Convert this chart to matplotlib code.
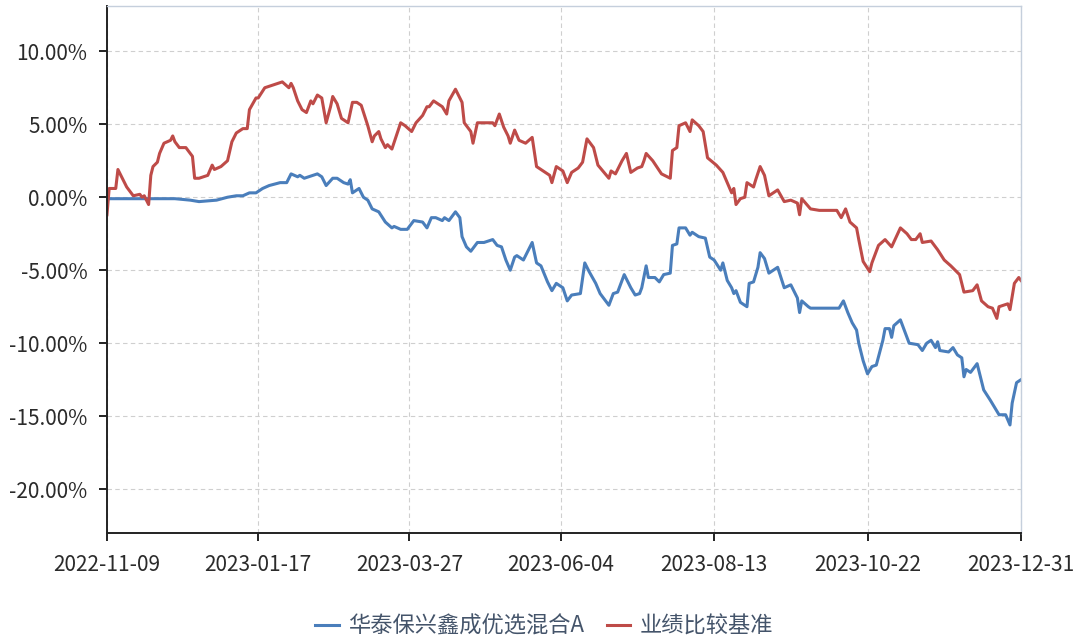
import pandas as pd
import matplotlib.pyplot as plt
import matplotlib.dates as mdates
from matplotlib.ticker import FuncFormatter

plt.rcParams['font.family'] = ['Noto Sans CJK SC', 'DejaVu Sans']

# ---------------- data (cumulative return, %) ----------------
fund_name = '华泰保兴鑫成优选混合A'
bench_name = '业绩比较基准'

bench_dates = [
    '2022-11-09', '2022-11-10', '2022-11-13', '2022-11-14', '2022-11-16', '2022-11-18', '2022-11-21',
    '2022-11-24', '2022-11-25', '2022-11-26', '2022-11-28', '2022-11-29', '2022-11-30', '2022-12-02',
    '2022-12-03', '2022-12-05', '2022-12-08', '2022-12-09', '2022-12-10', '2022-12-12', '2022-12-15',
    '2022-12-18', '2022-12-19', '2022-12-21', '2022-12-25', '2022-12-27', '2022-12-28', '2022-12-31',
    '2023-01-03', '2023-01-05', '2023-01-07', '2023-01-10', '2023-01-12', '2023-01-13', '2023-01-16',
    '2023-01-17', '2023-01-20', '2023-01-24', '2023-01-28', '2023-01-31', '2023-02-01', '2023-02-02',
    '2023-02-04', '2023-02-06', '2023-02-08', '2023-02-10', '2023-02-11', '2023-02-13', '2023-02-15',
    '2023-02-17', '2023-02-19', '2023-02-20', '2023-02-22', '2023-02-24', '2023-02-27', '2023-03-01',
    '2023-03-03', '2023-03-05', '2023-03-08', '2023-03-10', '2023-03-11', '2023-03-13', '2023-03-14',
    '2023-03-16', '2023-03-17', '2023-03-19', '2023-03-23', '2023-03-25', '2023-03-28', '2023-03-30',
    '2023-04-02', '2023-04-04', '2023-04-05', '2023-04-07', '2023-04-09', '2023-04-11', '2023-04-13',
    '2023-04-14', '2023-04-17', '2023-04-20', '2023-04-21', '2023-04-24', '2023-04-25', '2023-04-27',
    '2023-04-30', '2023-05-04', '2023-05-05', '2023-05-07', '2023-05-09', '2023-05-11', '2023-05-12',
    '2023-05-14', '2023-05-16', '2023-05-19', '2023-05-22', '2023-05-24', '2023-05-28', '2023-05-30',
    '2023-05-31', '2023-06-02', '2023-06-05', '2023-06-07', '2023-06-09', '2023-06-12', '2023-06-14',
    '2023-06-16', '2023-06-19', '2023-06-21', '2023-06-26', '2023-06-27', '2023-06-29', '2023-07-02',
    '2023-07-04', '2023-07-06', '2023-07-09', '2023-07-11', '2023-07-12', '2023-07-13', '2023-07-16',
    '2023-07-20', '2023-07-24', '2023-07-25', '2023-07-27', '2023-07-28', '2023-07-31', '2023-08-02',
    '2023-08-03', '2023-08-06', '2023-08-08', '2023-08-10', '2023-08-14', '2023-08-17', '2023-08-19',
    '2023-08-21', '2023-08-22', '2023-08-23', '2023-08-25', '2023-08-27', '2023-08-28', '2023-08-31',
    '2023-09-01', '2023-09-03', '2023-09-05', '2023-09-07', '2023-09-11', '2023-09-14', '2023-09-17',
    '2023-09-20', '2023-09-21', '2023-09-22', '2023-09-26', '2023-09-30', '2023-10-08', '2023-10-10',
    '2023-10-12', '2023-10-14', '2023-10-17', '2023-10-18', '2023-10-20', '2023-10-23', '2023-10-24',
    '2023-10-27', '2023-10-30', '2023-11-02', '2023-11-06', '2023-11-09', '2023-11-11', '2023-11-13',
    '2023-11-15', '2023-11-16', '2023-11-20', '2023-11-23', '2023-11-26', '2023-11-29', '2023-12-03',
    '2023-12-05', '2023-12-09', '2023-12-11', '2023-12-13', '2023-12-16', '2023-12-18', '2023-12-20',
    '2023-12-21', '2023-12-25', '2023-12-26', '2023-12-28', '2023-12-30', '2023-12-31',
]
bench_values = [
    -1.2, 0.6, 0.6, 1.9, 1.3, 0.7, 0.1,
    0.2, 0.0, 0.1, -0.5, 1.5, 2.1, 2.4,
    3.0, 3.7, 3.9, 4.2, 3.8, 3.4, 3.4,
    2.8, 1.3, 1.3, 1.5, 2.2, 1.9, 2.1,
    2.5, 3.8, 4.4, 4.7, 4.7, 6.0, 6.8,
    6.8, 7.5, 7.7, 7.9, 7.5, 7.8, 7.5,
    6.6, 6.0, 5.8, 6.6, 6.4, 7.0, 6.8,
    5.1, 6.2, 6.9, 6.4, 5.4, 5.1, 6.5,
    6.5, 6.3, 4.9, 3.8, 4.2, 4.5, 4.0,
    3.4, 3.6, 3.3, 5.1, 4.9, 4.5, 5.1,
    5.6, 6.2, 6.2, 6.6, 6.4, 6.2, 5.7,
    6.6, 7.4, 6.5, 5.1, 4.5, 3.7, 5.1,
    5.1, 5.1, 4.9, 5.7, 4.8, 4.2, 3.7,
    4.6, 3.9, 3.7, 4.1, 2.1, 1.7, 1.5,
    1.0, 2.1, 1.8, 1.0, 1.7, 2.0, 2.4,
    4.0, 3.4, 2.2, 1.3, 1.8, 1.6, 2.5,
    3.0, 1.7, 2.0, 2.1, 2.5, 3.0, 2.5,
    1.6, 1.3, 3.2, 3.4, 4.9, 5.1, 4.5,
    5.3, 4.9, 4.5, 2.7, 2.2, 1.7, 1.0,
    0.3, 0.6, -0.5, -0.1, 0.0, 1.0, 0.7,
    1.2, 2.1, 1.5, 0.1, 0.5, -0.3, -0.2,
    -0.4, -1.2, -0.1, -0.8, -0.9, -0.9, -1.4,
    -0.8, -1.7, -2.1, -2.9, -4.4, -5.1, -4.5,
    -3.3, -2.9, -3.4, -2.1, -2.5, -2.9, -2.9,
    -2.5, -3.1, -3.0, -3.6, -4.3, -4.7, -5.3,
    -6.5, -6.4, -6.0, -7.1, -7.5, -7.6, -8.3,
    -7.5, -7.3, -7.7, -5.9, -5.5, -5.7,
]

fund_dates = [
    '2022-11-09', '2022-11-29', '2022-12-10', '2022-12-17', '2022-12-21', '2022-12-29', '2023-01-03',
    '2023-01-07', '2023-01-10', '2023-01-13', '2023-01-16', '2023-01-19', '2023-01-22', '2023-01-27',
    '2023-01-30', '2023-02-01', '2023-02-04', '2023-02-05', '2023-02-07', '2023-02-13', '2023-02-15',
    '2023-02-17', '2023-02-20', '2023-02-22', '2023-02-25', '2023-02-27', '2023-02-28', '2023-03-01',
    '2023-03-03', '2023-03-04', '2023-03-06', '2023-03-08', '2023-03-10', '2023-03-13', '2023-03-16',
    '2023-03-19', '2023-03-20', '2023-03-23', '2023-03-26', '2023-03-29', '2023-04-02', '2023-04-04',
    '2023-04-06', '2023-04-08', '2023-04-11', '2023-04-12', '2023-04-14', '2023-04-17', '2023-04-19',
    '2023-04-20', '2023-04-22', '2023-04-24', '2023-04-27', '2023-04-30', '2023-05-04', '2023-05-06',
    '2023-05-08', '2023-05-10', '2023-05-12', '2023-05-14', '2023-05-15', '2023-05-18', '2023-05-22',
    '2023-05-24', '2023-05-26', '2023-05-29', '2023-05-31', '2023-06-02', '2023-06-05', '2023-06-07',
    '2023-06-09', '2023-06-13', '2023-06-15', '2023-06-17', '2023-06-20', '2023-06-22', '2023-06-26',
    '2023-06-28', '2023-06-30', '2023-07-03', '2023-07-06', '2023-07-08', '2023-07-10', '2023-07-11',
    '2023-07-13', '2023-07-14', '2023-07-17', '2023-07-19', '2023-07-21', '2023-07-24', '2023-07-25',
    '2023-07-27', '2023-07-28', '2023-07-31', '2023-08-02', '2023-08-03', '2023-08-06', '2023-08-09',
    '2023-08-11', '2023-08-13', '2023-08-16', '2023-08-17', '2023-08-19', '2023-08-21', '2023-08-22',
    '2023-08-23', '2023-08-25', '2023-08-28', '2023-08-29', '2023-08-31', '2023-09-02', '2023-09-03',
    '2023-09-05', '2023-09-07', '2023-09-11', '2023-09-14', '2023-09-17', '2023-09-20', '2023-09-21',
    '2023-09-22', '2023-09-25', '2023-09-26', '2023-10-09', '2023-10-11', '2023-10-13', '2023-10-15',
    '2023-10-17', '2023-10-18', '2023-10-20', '2023-10-22', '2023-10-24', '2023-10-26', '2023-10-29',
    '2023-10-30', '2023-11-01', '2023-11-02', '2023-11-03', '2023-11-06', '2023-11-08', '2023-11-10',
    '2023-11-14', '2023-11-16', '2023-11-18', '2023-11-20', '2023-11-22', '2023-11-23', '2023-11-24',
    '2023-11-28', '2023-11-30', '2023-12-02', '2023-12-04', '2023-12-05', '2023-12-06', '2023-12-08',
    '2023-12-10', '2023-12-11', '2023-12-14', '2023-12-17', '2023-12-19', '2023-12-21', '2023-12-24',
    '2023-12-26', '2023-12-27', '2023-12-29', '2023-12-31',
]
fund_values = [
    -0.1, -0.1, -0.1, -0.2, -0.3, -0.2, 0.0,
    0.1, 0.1, 0.3, 0.3, 0.6, 0.8, 1.0,
    1.0, 1.6, 1.4, 1.5, 1.3, 1.6, 1.4,
    0.8, 1.3, 1.3, 1.0, 0.9, 1.2, 0.3,
    0.5, 0.6, 0.0, -0.2, -0.8, -1.0, -1.7,
    -2.1, -2.0, -2.2, -2.2, -1.6, -1.7, -2.1,
    -1.4, -1.4, -1.6, -1.4, -1.6, -1.0, -1.4,
    -2.7, -3.4, -3.7, -3.1, -3.1, -2.9, -3.3,
    -3.4, -4.3, -5.0, -4.1, -4.0, -4.3, -3.1,
    -4.5, -4.7, -5.8, -6.4, -5.9, -6.2, -7.1,
    -6.7, -6.6, -4.5, -5.1, -5.9, -6.6, -7.4,
    -6.6, -6.5, -5.3, -6.2, -6.7, -6.6, -6.2,
    -4.7, -5.5, -5.5, -5.8, -5.3, -5.2, -3.3,
    -3.2, -2.1, -2.1, -2.6, -2.4, -2.7, -2.8,
    -4.1, -4.3, -5.0, -4.5, -5.7, -6.2, -6.6,
    -6.4, -7.2, -7.5, -5.9, -5.8, -4.8, -3.8,
    -4.2, -5.2, -4.8, -6.2, -6.0, -6.9, -7.9,
    -7.1, -7.5, -7.6, -7.6, -7.1, -7.9, -8.6,
    -9.1, -10.0, -11.2, -12.1, -11.6, -11.5, -9.8,
    -9.0, -9.0, -9.6, -8.8, -8.4, -9.2, -10.0,
    -10.1, -10.5, -10.0, -9.8, -10.3, -9.9, -10.5,
    -10.6, -10.3, -10.8, -11.0, -12.3, -11.8, -12.0,
    -11.6, -11.4, -13.2, -13.9, -14.4, -14.9, -14.9,
    -15.6, -14.1, -12.7, -12.5,
]

tick_dates = ['2022-11-09', '2023-01-17', '2023-03-27', '2023-06-04',
              '2023-08-13', '2023-10-22', '2023-12-31']
y_ticks = [10, 5, 0, -5, -10, -15, -20]

# ---------------- plot ----------------
fig = plt.figure(figsize=(10.86, 6.38), dpi=100)
ax = fig.add_axes([0.0985, 0.1646, 0.8416, 0.826])

ax.plot(pd.to_datetime(fund_dates), fund_values, color='#4a7ebb', lw=2.2, label=fund_name)
ax.plot(pd.to_datetime(bench_dates), bench_values, color='#be4b48', lw=2.2, label=bench_name)

ax.set_xlim(pd.Timestamp(tick_dates[0]), pd.Timestamp(tick_dates[-1]))
ax.set_ylim(-23, 13.1)
ax.set_xticks(pd.to_datetime(tick_dates))
ax.xaxis.set_major_formatter(mdates.DateFormatter('%Y-%m-%d'))
ax.set_yticks(y_ticks)
ax.yaxis.set_major_formatter(FuncFormatter(lambda v, _: f'{v:.2f}%'))

ax.grid(True, ls=(0, (4, 3)), color='#cfcfcf', lw=0.8)
ax.set_axisbelow(True)
for side in ['top', 'right']:
    ax.spines[side].set_color('#c5cfdc')
    ax.spines[side].set_linewidth(1.0)
for side in ['left', 'bottom']:
    ax.spines[side].set_color('#222222')
    ax.spines[side].set_linewidth(1.4)
ax.tick_params(axis='both', direction='out', length=6, width=1.4, color='#222222',
               labelsize=15, labelcolor='#2b2b2b')
ax.tick_params(axis='x', pad=9)
ax.tick_params(axis='y', pad=8)

fig.legend(loc='center', bbox_to_anchor=(0.501, 0.019), ncol=2, frameon=False,
           fontsize=16, handlelength=1.05, handletextpad=0.4, columnspacing=1.05,
           labelcolor='#44546a')

fig.savefig('out.png', dpi=100)
